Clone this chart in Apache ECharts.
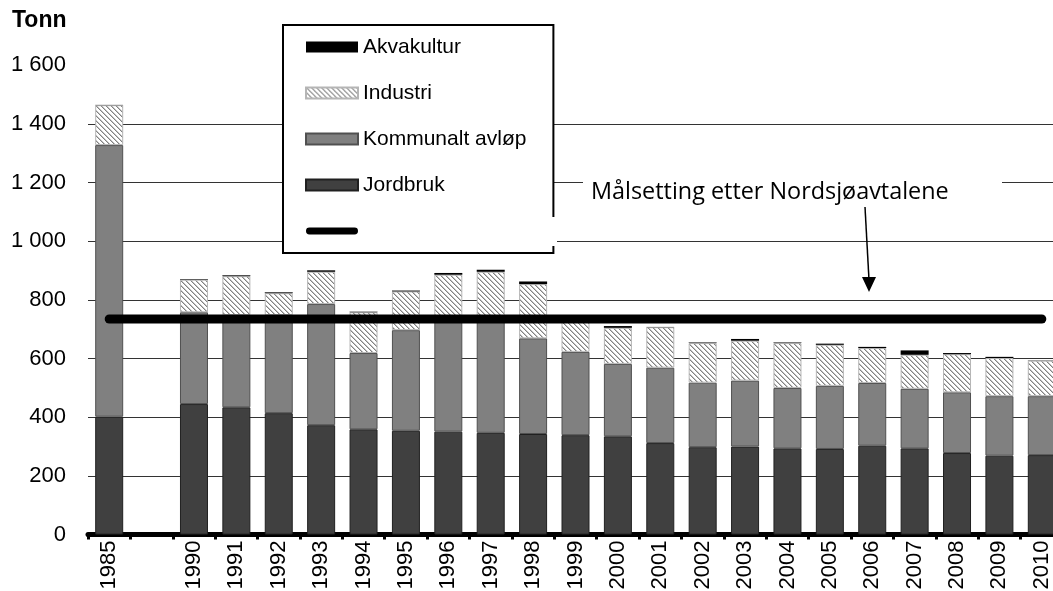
<!DOCTYPE html>
<html>
<head>
<meta charset="utf-8">
<script src="https://cdn.jsdelivr.net/npm/echarts@6/dist/echarts.min.js"></script>
<style>
    html, body { margin: 0; padding: 0; background: #fff; }
    #chart { width: 1053px; height: 591px; }
</style>
</head>
<body>
<div id="chart"></div>
<script>
// kategorier (tom plass mellom 1985 og 1990)
var years = ['1985', '', '1990', '1991', '1992', '1993', '1994', '1995', '1996', '1997', '1998',
    '1999', '2000', '2001', '2002', '2003', '2004', '2005', '2006', '2007', '2008', '2009', '2010'];

// tonn per kilde, lest av figuren
var jordbruk   = [402, null, 445, 434, 414, 373, 359, 354, 351, 347, 343, 339, 335, 312, 298, 300, 294, 292, 303, 294, 278, 269, 271];
var kommunalt  = [926, null, 313, 314, 334, 413, 260, 343, 393, 397, 326, 284, 247, 257, 220, 225, 206, 215, 214, 203, 207, 203, 201];
var industri   = [136, null, 111, 133, 75, 110, 139, 132, 142, 152, 185, 120, 123, 138, 135, 136, 153, 140, 119, 116, 130, 130, 121];
var akvakultur = [1, null, 2, 3, 3, 5, 2, 3, 6, 7, 9, 4, 6, 1, 2, 6, 2, 4, 4, 15, 4, 4, 1];

// målsetting etter Nordsjøavtalene
var target = 735;
var targetName = 'Målsetting etter Nordsjøavtalene';

// skravur for industri
function hatch() {
    var c = document.createElement('canvas');
    c.width = 5; c.height = 5;
    var ctx = c.getContext('2d');
    var img = ctx.createImageData(5, 5);
    for (var y = 0; y < 5; y++) {
        for (var x = 0; x < 5; x++) {
            var d = (x - y + 10) % 5;
            var v = d === 0 ? 130 : (d === 1 ? 195 : 255);
            var i = (y * 5 + x) * 4;
            img.data[i] = v; img.data[i + 1] = v; img.data[i + 2] = v; img.data[i + 3] = 255;
        }
    }
    ctx.putImageData(img, 0, 0);
    return { image: c, repeat: 'repeat' };
}

var chart = echarts.init(document.getElementById('chart'));

var option = {
    animation: false,
    textStyle: { fontFamily: '"Liberation Sans", Arial, sans-serif', color: '#000' },
    grid: { left: 88, top: 65.3, width: 975, height: 469.3, outerBoundsMode: 'none', containLabel: false },
    legend: {
        left: 283, top: 25,
        orient: 'vertical',
        backgroundColor: '#fff',
        borderColor: '#000', borderWidth: 2, borderRadius: 0,
        padding: [11, 27, 11, 22],
        itemWidth: 52, itemHeight: 11, itemGap: 24,
        selectedMode: false,
        textStyle: { fontSize: 21, color: '#000', lineHeight: 22 },
        formatter: function (name) { return name === targetName ? ' ' : name; },
        data: [
            { name: 'Akvakultur', icon: 'rect' },
            { name: 'Industri', icon: 'rect' },
            { name: 'Kommunalt avløp', icon: 'rect' },
            { name: 'Jordbruk', icon: 'rect' },
            { name: targetName, icon: 'path://M4,0 L56,0 A4,4 0 0 1 56,8 L4,8 A4,4 0 0 1 4,0 Z' }
        ]
    },
    xAxis: {
        type: 'category',
        data: years,
        axisLine: { lineStyle: { color: '#000', width: 5 } },
        axisTick: { show: true, interval: 0, length: 5, lineStyle: { color: '#000', width: 3 } },
        axisLabel: { interval: 0, rotate: 90, fontSize: 22, color: '#000', margin: 6, hideOverlap: false },
        splitLine: { show: false }
    },
    yAxis: {
        type: 'value',
        min: 0, max: 1600, interval: 200,
        axisLine: { show: false },
        axisTick: { show: false },
        axisLabel: {
            fontSize: 22, color: '#000', margin: 22,
            formatter: function (v) {
                return v >= 1000 ? Math.floor(v / 1000) + ' ' + String(v % 1000).padStart(3, '0') : String(v);
            }
        },
        splitLine: { show: true, showMaxLine: false, lineStyle: { color: '#333', width: 1.2 } }
    },
    graphic: [
        { type: 'text', z: 101, style: { text: 'Tonn', x: 12, y: 21, font: 'bold 23px "Liberation Sans"', fill: '#000', verticalAlign: 'middle' } },
        { type: 'rect', z: 100, shape: { x: 551, y: 217, width: 6, height: 29 }, style: { fill: '#fff' } },
        { type: 'rect', z: 100, shape: { x: 583, y: 168, width: 419, height: 46 }, style: { fill: '#fff' } },
        { type: 'text', z: 101, style: { text: targetName, x: 591, y: 192, font: '23.4px "Open Sans"', fill: '#000', verticalAlign: 'middle' } },
        { type: 'line', z: 101, shape: { x1: 865, y1: 207, x2: 869, y2: 280 }, style: { stroke: '#000', lineWidth: 1.5 } },
        { type: 'polygon', z: 101, shape: { points: [[862, 277], [876, 277], [869, 292]] }, style: { fill: '#000' } }
    ],
    series: [
        {
            name: 'Jordbruk', type: 'bar', stack: 'tot', barWidth: 28,
            itemStyle: { color: '#404040', borderColor: '#202020', borderWidth: 1 },
            data: jordbruk
        },
        {
            name: 'Kommunalt avløp', type: 'bar', stack: 'tot',
            itemStyle: { color: '#808080', borderColor: '#505050', borderWidth: 1 },
            data: kommunalt
        },
        {
            name: 'Industri', type: 'bar', stack: 'tot',
            itemStyle: { color: hatch(), borderColor: '#b5b5b5', borderWidth: 1 },
            data: industri
        },
        {
            name: 'Akvakultur', type: 'bar', stack: 'tot',
            itemStyle: { color: '#000' },
            data: akvakultur
        },
        {
            name: targetName, type: 'line',
            symbol: 'none', color: '#000',
            lineStyle: { color: '#000', width: 9, cap: 'round' },
            itemStyle: { color: '#000' },
            z: 5,
            data: [[years[0], target], [years[years.length - 1], target]]
        }
    ]
};

chart.setOption(option);
</script>
</body>
</html>
